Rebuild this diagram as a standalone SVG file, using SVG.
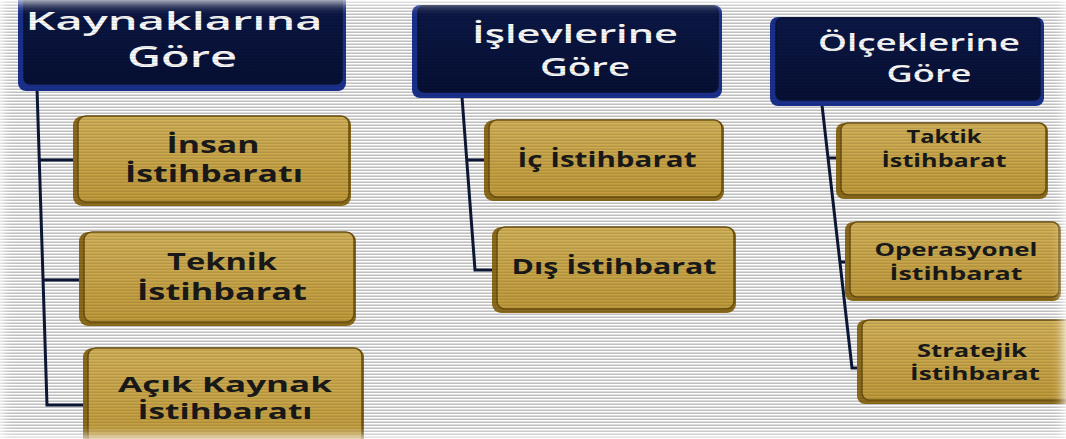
<svg xmlns="http://www.w3.org/2000/svg" width="1066" height="439" viewBox="0 0 1066 439">
<defs>
<pattern id="stripes" width="8" height="3" patternUnits="userSpaceOnUse">
<rect width="8" height="3" fill="#ffffff"/>
<rect y="1.5" width="8" height="1.5" fill="#d9d9d9"/>
</pattern>
<pattern id="scan" width="8" height="3" patternUnits="userSpaceOnUse">
<rect y="1.5" width="8" height="1.5" fill="#000" opacity="0.12"/>
</pattern>
<linearGradient id="navy" x1="0" y1="0" x2="0" y2="1">
<stop offset="0" stop-color="#0c1848"/>
<stop offset="1" stop-color="#071035"/>
</linearGradient>
<linearGradient id="gold" x1="0" y1="0" x2="0" y2="1">
<stop offset="0" stop-color="#d4b35a"/>
<stop offset="1" stop-color="#c29c3c"/>
</linearGradient>
<filter id="blur" x="-10%" y="-10%" width="120%" height="120%"><feGaussianBlur stdDeviation="6"/></filter>
</defs>
<style>
.hdr-base{fill:#1b3190;}
.hdr{fill:url(#navy);stroke:#0a1333;stroke-width:1.5;}
.box-base{fill:#8f6d1c;}
.box{fill:url(#gold);stroke:#6e5210;stroke-width:1.5;}
.ht{font-family:"Open Sans","DejaVu Sans",sans-serif;font-weight:600;fill:#ffffff;text-anchor:middle;}
.bt{font-family:"Open Sans","DejaVu Sans",sans-serif;font-weight:700;fill:#1a1a1a;text-anchor:middle;}
.conn{fill:none;stroke:#0d1838;stroke-width:3;}
</style>
<rect width="1066" height="439" fill="url(#stripes)"/>

<g id="connectors">
<path class="conn" d="M37 88 L47 405 L86 405"/>
<path class="conn" d="M39.3 160 L76 160"/>
<path class="conn" d="M43.1 280 L81 280"/>
<path class="conn" d="M462 97 L475 270 L494 270"/>
<path class="conn" d="M466.7 160 L486 160"/>
<path class="conn" d="M822 105 L852 368 L859 368"/>
<path class="conn" d="M828 158 L838 158"/>
<path class="conn" d="M840 262 L846 262"/>
</g>

<g id="h1">
<rect class="hdr-base" x="18" y="-8" width="328" height="99" rx="8"/>
<rect class="hdr" x="24" y="-8" width="318" height="92" rx="6"/>
<text class="ht" x="174" y="30" font-size="26" textLength="297" lengthAdjust="spacingAndGlyphs">Kaynaklarına</text>
<text class="ht" x="182" y="67" font-size="28" textLength="110" lengthAdjust="spacingAndGlyphs">Göre</text>
</g>
<g id="h2">
<rect class="hdr-base" x="412" y="5" width="310" height="93" rx="8"/>
<rect class="hdr" x="418" y="6" width="300" height="86" rx="6"/>
<text class="ht" x="575" y="43" font-size="25" textLength="206" lengthAdjust="spacingAndGlyphs">İşlevlerine</text>
<text class="ht" x="585" y="76" font-size="25" textLength="90" lengthAdjust="spacingAndGlyphs">Göre</text>
</g>
<g id="h3">
<rect class="hdr-base" x="770" y="17" width="274" height="89" rx="8"/>
<rect class="hdr" x="776" y="18" width="264" height="82" rx="6"/>
<text class="ht" x="919" y="51" font-size="24" textLength="202" lengthAdjust="spacingAndGlyphs">Ölçeklerine</text>
<text class="ht" x="929" y="82" font-size="24" textLength="85" lengthAdjust="spacingAndGlyphs">Göre</text>
</g>

<g id="n-insan">
<rect class="box-base" x="73" y="116" width="278" height="90" rx="9"/>
<rect class="box" x="78" y="116" width="271" height="86" rx="8"/>
<text class="bt" x="213" y="153" font-size="23" textLength="93" lengthAdjust="spacingAndGlyphs">İnsan</text>
<text class="bt" x="214" y="182" font-size="23" textLength="178" lengthAdjust="spacingAndGlyphs">İstihbaratı</text>
</g>
<g id="n-teknik">
<rect class="box-base" x="79" y="232" width="277" height="94" rx="9"/>
<rect class="box" x="84" y="232" width="270" height="90" rx="8"/>
<text class="bt" x="222" y="270" font-size="23" textLength="110" lengthAdjust="spacingAndGlyphs">Teknik</text>
<text class="bt" x="222" y="300" font-size="23" textLength="170" lengthAdjust="spacingAndGlyphs">İstihbarat</text>
</g>
<g id="n-acik">
<rect class="box-base" x="83" y="348" width="281" height="100" rx="9"/>
<rect class="box" x="88" y="348" width="274" height="96" rx="8"/>
<text class="bt" x="225" y="392" font-size="22" textLength="214" lengthAdjust="spacingAndGlyphs">Açık Kaynak</text>
<text class="bt" x="225" y="419" font-size="22" textLength="175" lengthAdjust="spacingAndGlyphs">İstihbaratı</text>
</g>

<g id="n-ic">
<rect class="box-base" x="484" y="120" width="240" height="81" rx="9"/>
<rect class="box" x="489" y="120" width="233" height="77" rx="8"/>
<text class="bt" x="607" y="167" font-size="21" textLength="179" lengthAdjust="spacingAndGlyphs">İç İstihbarat</text>
</g>
<g id="n-dis">
<rect class="box-base" x="492" y="227" width="244" height="86" rx="9"/>
<rect class="box" x="497" y="227" width="237" height="82" rx="8"/>
<text class="bt" x="614" y="274" font-size="21" textLength="205" lengthAdjust="spacingAndGlyphs">Dış İstihbarat</text>
</g>

<g id="n-taktik">
<rect class="box-base" x="836" y="123" width="212" height="76" rx="8"/>
<rect class="box" x="841" y="123" width="205" height="72" rx="7"/>
<text class="bt" x="944" y="143" font-size="17" textLength="75" lengthAdjust="spacingAndGlyphs">Taktik</text>
<text class="bt" x="944" y="167" font-size="17" textLength="125" lengthAdjust="spacingAndGlyphs">İstihbarat</text>
</g>
<g id="n-operasyonel">
<rect class="box-base" x="845" y="222" width="216" height="79" rx="8"/>
<rect class="box" x="850" y="222" width="209" height="75" rx="7"/>
<text class="bt" x="956" y="256" font-size="17" textLength="163" lengthAdjust="spacingAndGlyphs">Operasyonel</text>
<text class="bt" x="956" y="280" font-size="17" textLength="133" lengthAdjust="spacingAndGlyphs">İstihbarat</text>
</g>
<g id="n-stratejik">
<rect class="box-base" x="857" y="320" width="215" height="84" rx="8"/>
<rect class="box" x="862" y="320" width="210" height="80" rx="7"/>
<text class="bt" x="972" y="357" font-size="17" textLength="110" lengthAdjust="spacingAndGlyphs">Stratejik</text>
<text class="bt" x="975" y="380" font-size="17" textLength="130" lengthAdjust="spacingAndGlyphs">İstihbarat</text>
</g>

<rect width="1066" height="439" fill="url(#scan)" pointer-events="none"/>
<rect x="-6" y="-6" width="1078" height="451" fill="none" stroke="#ffffff" stroke-width="16" filter="url(#blur)"/>
</svg>
